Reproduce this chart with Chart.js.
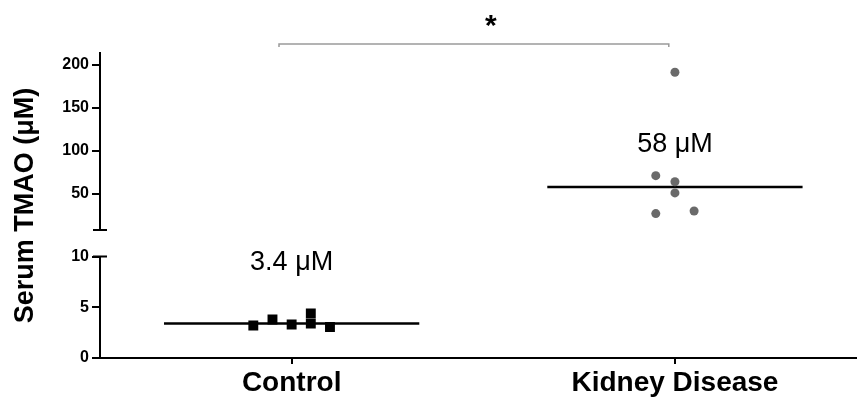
<!DOCTYPE html>
<html>
<head>
<meta charset="utf-8">
<script src="https://cdn.jsdelivr.net/npm/chart.js@4.4.0/dist/chart.umd.min.js"></script>
<style>
  html, body { margin: 0; padding: 0; background: #fff; }
  #wrap { width: 857px; height: 398px; }
</style>
</head>
<body>
<div id="wrap"><canvas id="chart"></canvas></div>
<script>
// groups sit at x = 1 and x = 2
const groups = ["Control", "Kidney Disease"];

// Control (lower part of the broken axis), x includes the dot-plot jitter
const controlX = [0.9, 0.95, 1.0, 1.05, 1.05, 1.1];
const controlY = [3.2, 3.8, 3.3, 4.4, 3.4, 3.05];

// Kidney disease (upper part of the broken axis)
const kidneyX = [2.0, 1.95, 2.0, 2.0, 1.95, 2.05];
const kidneyY = [191, 71, 64, 51, 27, 30];

// medians
const medians = [3.4, 58];
const medianLabels = ["3.4 μM", "58 μM"];

// tick labels for each segment
const lowerTicks = [0, 5, 10];
const upperTicks = [50, 100, 150, 200];

const FONT = "'Liberation Sans', Arial, Helvetica, sans-serif";
Chart.defaults.font.family = FONT;
Chart.defaults.color = "#000";

const HALF = 0.333; // half width of the median bar

const medianLine = (i, axis) => ({
  data: [{ x: i + 1 - HALF, y: medians[i] }, { x: i + 1 + HALF, y: medians[i] }],
  yAxisID: axis,
  showLine: true,
  borderColor: "#000",
  borderWidth: 2.5,
  pointRadius: 0,
});

// broken-axis caps, median labels, bracket, star, y title
const extras = {
  id: "extras",
  afterDraw(chart) {
    const ctx = chart.ctx;
    const x = chart.scales.x, top = chart.scales.yTop, bot = chart.scales.yBot;
    const ax = x.left;
    ctx.save();

    ctx.strokeStyle = "#000";
    ctx.lineWidth = 2;
    ctx.beginPath();
    ctx.moveTo(ax - 7, top.bottom); ctx.lineTo(ax + 7, top.bottom);
    ctx.moveTo(ax - 7, bot.top); ctx.lineTo(ax + 7, bot.top);
    ctx.stroke();

    ctx.fillStyle = "#000";
    ctx.font = "27px " + FONT;
    ctx.textAlign = "center";
    ctx.textBaseline = "alphabetic";
    ctx.fillText(medianLabels[0], x.getPixelForValue(1), bot.getPixelForValue(8.7));
    ctx.fillText(medianLabels[1], x.getPixelForValue(2), top.getPixelForValue(98.7));

    // significance bracket
    const by = chart.chartArea.top - 9;
    const bx1 = x.getPixelForValue(0.967), bx2 = x.getPixelForValue(1.984);
    ctx.strokeStyle = "#9a9a9a";
    ctx.lineWidth = 1.5;
    ctx.beginPath();
    ctx.moveTo(bx1, by + 3); ctx.lineTo(bx1, by); ctx.lineTo(bx2, by); ctx.lineTo(bx2, by + 3);
    ctx.stroke();
    ctx.font = "bold 30px " + FONT;
    ctx.fillText("*", x.getPixelForValue(1.52), by - 9);

    // y axis title
    ctx.translate(33, (chart.chartArea.top + chart.chartArea.bottom) / 2);
    ctx.rotate(-Math.PI / 2);
    ctx.font = "bold 27px " + FONT;
    ctx.fillText("Serum TMAO (μM)", 0, 0);
    ctx.restore();
  }
};

const yCommon = {
  type: "linear",
  position: "left",
  stack: "y",
  border: { color: "#000", width: 2 },
  grid: { drawOnChartArea: false, tickLength: 8, color: "#000", lineWidth: 2 },
  ticks: { color: "#000", font: { size: 16, weight: "bold" }, padding: 3 },
  afterFit: (s) => { s.width = 60; },
};

new Chart(document.getElementById("chart"), {
  type: "scatter",
  data: {
    datasets: [
      {
        data: controlX.map((v, i) => ({ x: v, y: controlY[i] })),
        yAxisID: "yBot",
        pointStyle: "rect",
        pointRadius: 7,
        backgroundColor: "#000",
        borderWidth: 0,
      },
      {
        data: kidneyX.map((v, i) => ({ x: v, y: kidneyY[i] })),
        yAxisID: "yTop",
        pointStyle: "circle",
        pointRadius: 4.5,
        backgroundColor: "#6a6a6a",
        borderWidth: 0,
      },
      medianLine(0, "yBot"),
      medianLine(1, "yTop"),
    ],
  },
  options: {
    responsive: true,
    maintainAspectRatio: false,
    animation: false,
    layout: { autoPadding: false, padding: { left: 40, top: 53, right: 0, bottom: 0 } },
    plugins: { legend: { display: false }, tooltip: { enabled: false } },
    scales: {
      x: {
        type: "linear",
        min: 0.5,
        max: 2.475,
        afterBuildTicks: (s) => { s.ticks = groups.map((g, i) => ({ value: i + 1 })); },
        afterFit: (s) => { s.height = 40; s.paddingLeft = 0; s.paddingRight = 0; },
        border: { color: "#000", width: 2 },
        grid: { drawOnChartArea: false, tickLength: 6, color: "#000", lineWidth: 2 },
        ticks: {
          callback: (v) => groups[v - 1],
          color: "#000",
          font: { size: 28, weight: "bold" },
          padding: 2,
          autoSkip: false,
          maxRotation: 0,
        },
      },
      yBot: {
        ...yCommon,
        min: 0,
        max: 10,
        stackWeight: 101.6,
        afterBuildTicks: (s) => { s.ticks = lowerTicks.map((v) => ({ value: v })); },
      },
      yGap: {
        type: "linear",
        position: "left",
        stack: "y",
        stackWeight: 26.7,
        border: { display: false },
        grid: { display: false },
        ticks: { display: false },
        afterFit: (s) => { s.width = 60; },
      },
      yTop: {
        ...yCommon,
        min: 8,
        max: 213.4,
        stackWeight: 177.3,
        afterBuildTicks: (s) => { s.ticks = upperTicks.map((v) => ({ value: v })); },
      },
    },
  },
  plugins: [extras],
});
</script>
</body>
</html>
